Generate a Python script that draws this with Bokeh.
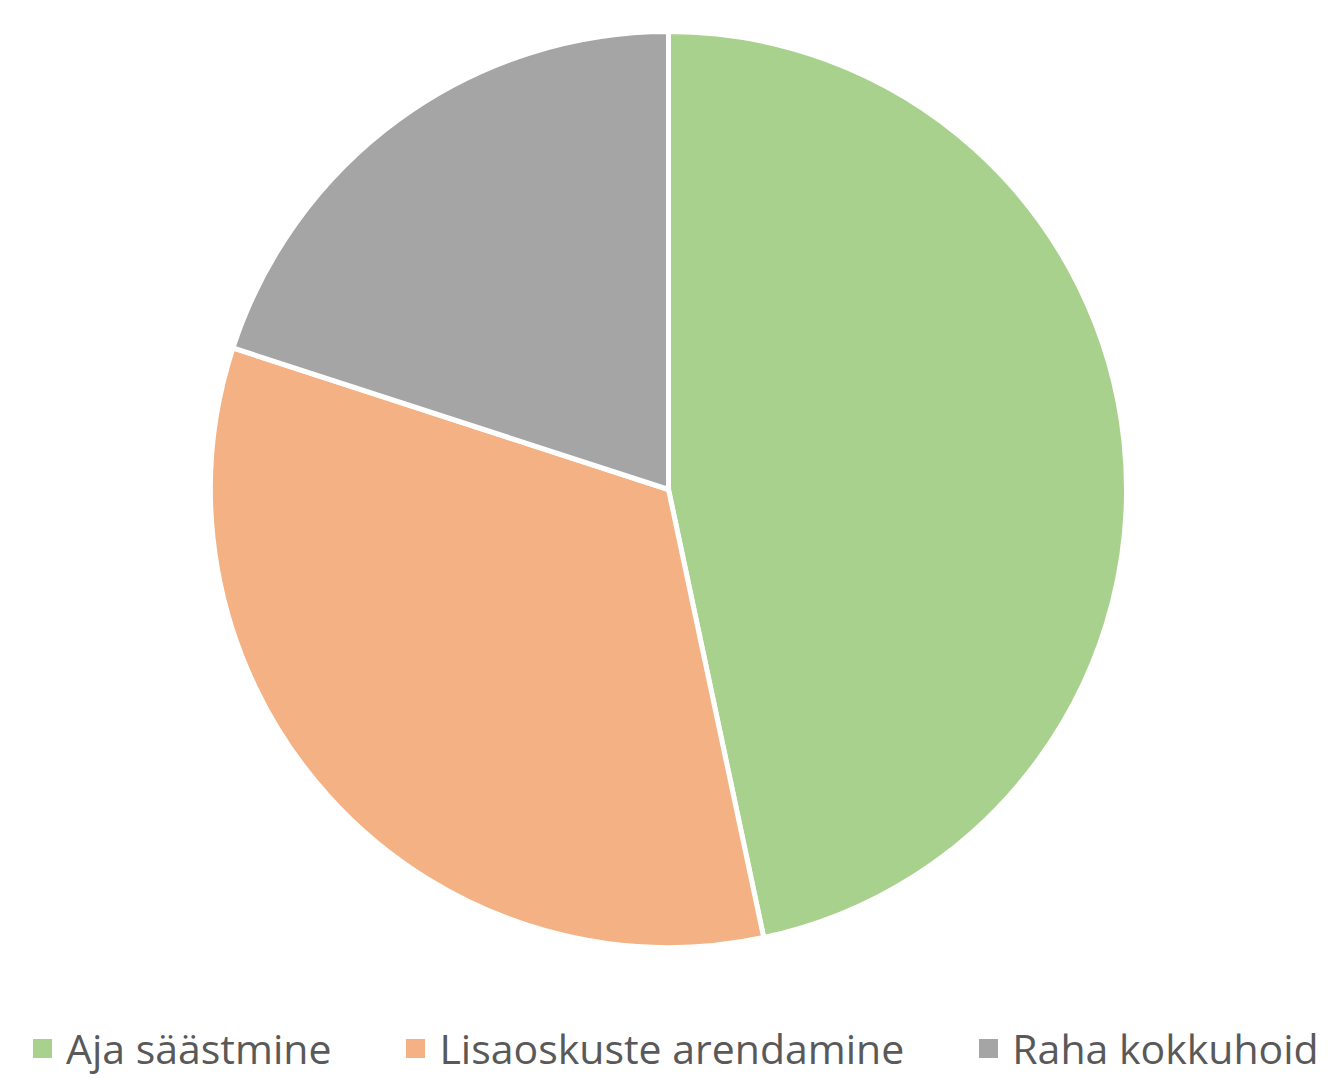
import numpy as np
from bokeh.plotting import figure
from bokeh.models import ColumnDataSource, Range1d, Legend, LegendItem
from bokeh.embed import file_html
from bokeh.resources import INLINE

# data
categories = ["Aja säästmine", "Lisaoskuste arendamine", "Raha kokkuhoid"]
values = [14, 10, 6]
colors = ["#A9D18E", "#F4B183", "#A5A5A5"]

W, H = 1330, 1079
vals = np.array(values, dtype=float)
frac = vals / vals.sum()
cum = np.concatenate([[0], np.cumsum(frac)])
start = np.pi / 2 - 2 * np.pi * cum[:-1]
end = np.pi / 2 - 2 * np.pi * cum[1:]

p = figure(width=W, height=H, x_range=Range1d(0, W), y_range=Range1d(0, H),
           output_backend="svg", toolbar_location=None, min_border=0)
p.axis.visible = False
p.grid.visible = False
p.outline_line_color = None
p.background_fill_color = "white"
p.border_fill_color = "white"

cx, cy, r = 668, H - 489, 458
renderers = []
for i in range(len(categories)):
    s = ColumnDataSource(dict(start=[start[i]], end=[end[i]]))
    rr = p.wedge(x=cx, y=cy, radius=r, start_angle="start", end_angle="end",
                 direction="clock", fill_color=colors[i], line_color="white",
                 line_width=5, source=s)
    renderers.append(rr)

legend = Legend(items=[LegendItem(label=c, renderers=[rr]) for c, rr in zip(categories, renderers)],
                orientation="horizontal", location=(27, 3),
                glyph_width=30, glyph_height=30, label_standoff=9, spacing=69,
                padding=0, margin=0, border_line_alpha=0, background_fill_alpha=0,
                label_text_font="Open Sans", label_text_font_size="41px",
                label_text_color="#595959")
p.add_layout(legend)

open("out.html", "w").write(file_html(p, INLINE))
